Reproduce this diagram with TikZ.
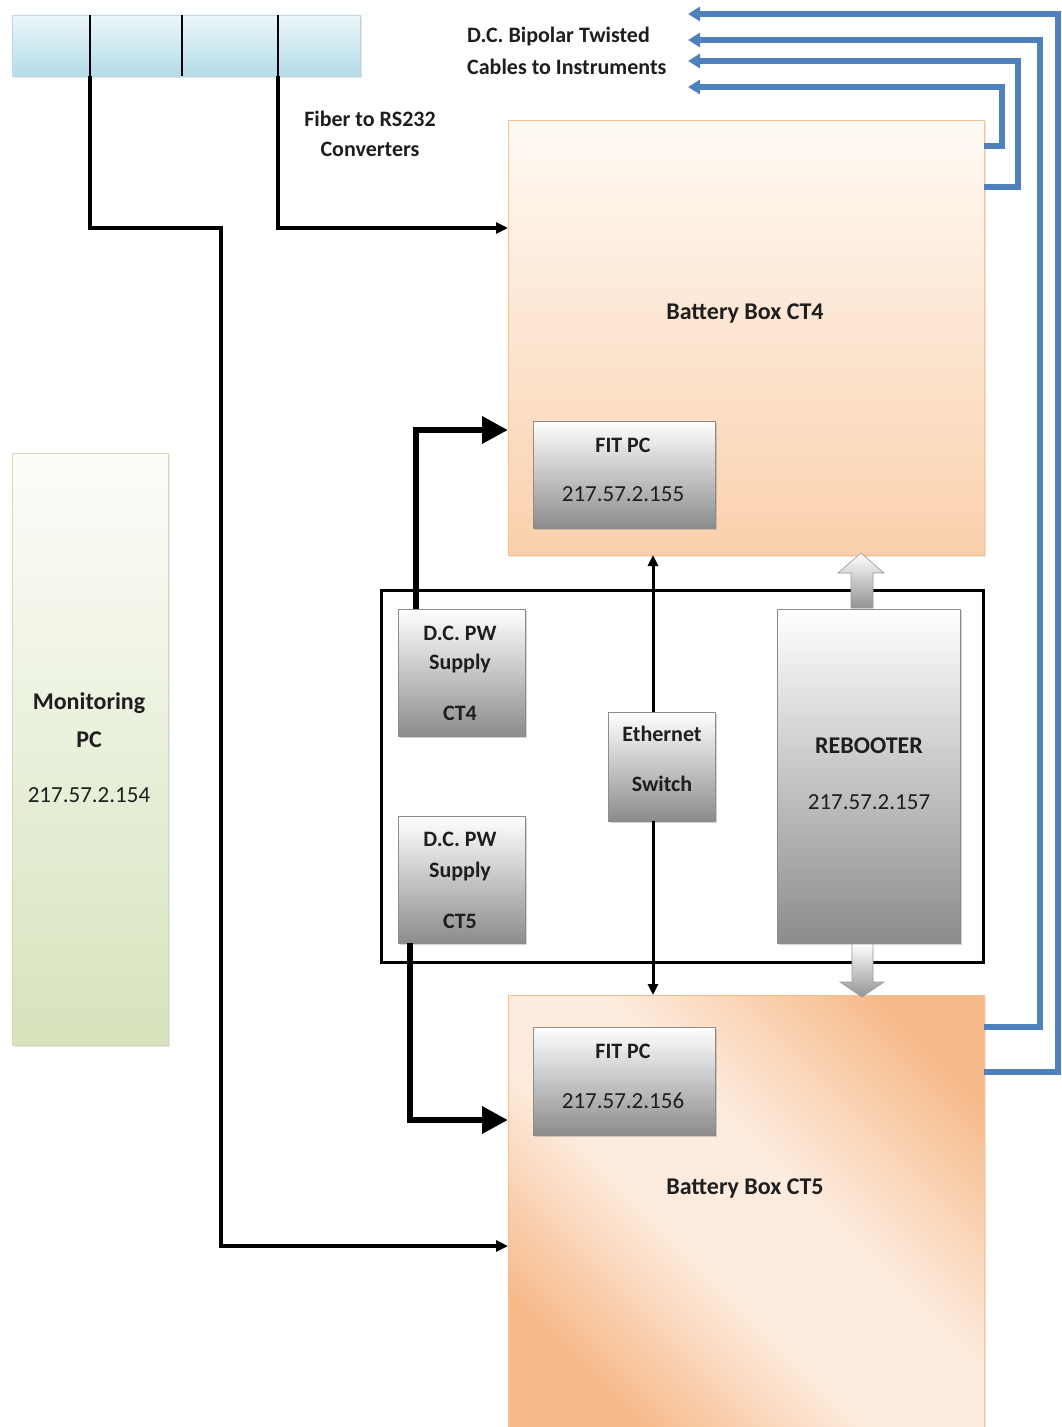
\documentclass[tikz,border=0pt]{standalone}
\usepackage{fontspec}
\setmainfont{Carlito}
\usetikzlibrary{arrows.meta,shadows,calc}
\definecolor{cablecol}{RGB}{79,129,189}
\definecolor{peachlight}{RGB}{255,250,245}
\definecolor{peach}{RGB}{250,208,172}
\definecolor{peachdark}{RGB}{246,186,138}
\definecolor{peachmid}{RGB}{253,236,222}
\definecolor{bluetop}{RGB}{235,246,249}
\definecolor{bluebot}{RGB}{180,220,232}
\definecolor{greentop}{RGB}{252,253,250}
\definecolor{greenbot}{RGB}{214,227,188}
\definecolor{greenline}{RGB}{210,218,185}
\definecolor{graybot}{RGB}{140,140,140}
\definecolor{txt}{RGB}{30,30,30}
\pgfdeclareverticalshading{ctfive}{100bp}{color(0bp)=(peachdark); color(25bp)=(peachdark); color(43bp)=(peachmid); color(56bp)=(peachmid); color(77bp)=(peachdark); color(100bp)=(peachdark)}
\tikzset{
  box/.style={inner sep=0pt, outer sep=0pt},
  graybox/.style={box, draw=gray!90, line width=0.8pt, top color=white, bottom color=graybot,
     drop shadow={shadow xshift=2pt, shadow yshift=-2pt, opacity=0.35}},
  battbox/.style={box, draw=peach!80!orange, line width=0.5pt,
     drop shadow={shadow xshift=2pt, shadow yshift=-2pt, opacity=0.2}},
  wire/.style={line width=3.5pt, -{Triangle[length=12pt,width=11pt]}},
  bigwire/.style={line width=6.5pt, -{Triangle[length=26pt,width=26pt]}},
  eth/.style={line width=3pt, -{Triangle[length=11pt,width=10pt]}},
  cable/.style={line width=5.5pt, draw=cablecol, line join=miter, -{Triangle[length=12pt,width=14pt]}},
  bt/.style={font=\fontsize{22}{26}\selectfont\bfseries, text=txt, inner sep=0pt},
  big/.style={font=\fontsize{24}{28}\selectfont\bfseries, text=txt, inner sep=0pt},
  ip/.style={font=\fontsize{23}{27}\selectfont, text=txt, inner sep=0pt},
  fatarrow/.style={draw=gray!80, line width=0.6pt, top color=white, bottom color=gray!85}
}
\begin{document}
\begin{tikzpicture}[x=1pt,y=-1pt]
\useasboundingbox (0,0) rectangle (1061,1427);

% battery boxes
\node[battbox, top color=peachlight, bottom color=peach, minimum width=476pt, minimum height=435pt] (ct4) at (746,337.5) {};
\node[battbox, shading=ctfive, shading angle=-45, minimum width=476pt, minimum height=436pt] (ct5) at (746,1213) {};

% converter bar
\node[box, draw=gray!50!cyan!40, line width=0.6pt, top color=bluetop, bottom color=bluebot,
  drop shadow={shadow xshift=2pt, shadow yshift=-2pt, opacity=0.25},
  minimum width=348pt, minimum height=61pt] (conv) at (186,45.5) {};
\draw[line width=1.4pt] (conv.north -| 90,0) -- (conv.south -| 90,0);
\draw[line width=1.4pt] (conv.north -| 182,0) -- (conv.south -| 182,0);
\draw[line width=1.4pt] (conv.north -| 278,0) -- (conv.south -| 278,0);

% monitoring PC
\node[box, draw=greenline, line width=1pt, top color=greentop, bottom color=greenbot,
  drop shadow={shadow xshift=2pt, shadow yshift=-2pt, opacity=0.2},
  minimum width=156pt, minimum height=592pt] (mon) at (90,749) {};

% enclosure
\node[box, draw=black, line width=3pt, minimum width=602pt, minimum height=372pt] (encl) at (682,776) {};

% inner boxes
\node[graybox, minimum width=182pt, minimum height=107pt] (fit4) at (624,474.5) {};
\node[graybox, minimum width=182pt, minimum height=108pt] (fit5) at (624,1081) {};
\node[graybox, minimum width=127pt, minimum height=127pt] (sup4) at (461.5,672.5) {};
\node[graybox, minimum width=127pt, minimum height=127pt] (sup5) at (461.5,879.5) {};
\node[graybox, minimum width=107pt, minimum height=109pt] (eth) at (661.5,766.5) {};
\node[graybox, minimum width=183pt, minimum height=334pt] (reb) at (868.5,776) {};

% fat block arrows rebooter -> battery boxes
\path[fatarrow] (851,608) -- (851,573) -- (838,573) -- (861,553) -- (884,573) -- (873,573) -- (873,608) -- cycle;
\path[fatarrow] (852,944) -- (852,982) -- (840,982) -- (862,997) -- (884,982) -- (873,982) -- (873,944) -- cycle;

% fiber lines
\draw[wire] (conv.south -| 90,0) |- (221,228) |- (ct5.west |- 0,1246);
\draw[wire] (conv.south -| 278,0) |- (ct4.west |- 0,228);

% power supply thick arrows
\draw[bigwire] (sup4.north -| 416,0) |- (ct4.west |- 0,430);
\draw[bigwire] (sup5.south -| 410,0) |- (ct5.west |- 0,1120);

% ethernet
\draw[eth] (eth.north -| 653,0) -- (ct4.south -| 653,0);
\draw[eth] (eth.south -| 653,0) -- (ct5.north -| 653,0);

% cables
\draw[cable] (ct5.east |- 0,1072) -| (1058,14) -- (688,14);
\draw[cable] (ct5.east |- 0,1027) -| (1040,40) -- (688,40);
\draw[cable] (ct4.east |- 0,187) -| (1018,61) -- (688,61);
\draw[cable] (ct4.east |- 0,146) -| (1002,87) -- (688,87);

% texts
\node[bt] (t1) at (370,119) {Fiber to RS232};
\node[bt] (t2) at (370,149) {Converters};
\node[bt, anchor=west] (t3) at (467,37) {D.C. Bipolar Twisted};
\node[bt, anchor=west] (t4) at (467,67) {Cables to Instruments};
\node[big] (t5) at (745,314) {Battery Box CT4};
\node[bt] (t6) at (623,445) {FIT PC};
\node[ip] (t7) at (623,494) {217.57.2.155};
\node[bt] (t8) at (460,633) {D.C. PW};
\node[bt] (t9) at (460,664) {Supply};
\node[bt] (t10) at (460,713) {CT4};
\node[bt] (t11) at (460,839) {D.C. PW};
\node[bt] (t12) at (460,871) {Supply};
\node[bt] (t13) at (460,921) {CT5};
\node[bt] (t14) at (662,734) {Ethernet};
\node[bt] (t15) at (662,784) {Switch};
\node[big] (t16) at (869,746) {REBOOTER};
\node[ip] (t17) at (869,802) {217.57.2.157};
\node[bt] (t18) at (623,1051) {FIT PC};
\node[ip] (t19) at (623,1101) {217.57.2.156};
\node[big] (t20) at (745,1189) {Battery Box CT5};
\node[big] (t21) at (89,703) {Monitoring};
\node[big] (t22) at (89,740) {PC};
\node[ip] (t23) at (89,795) {217.57.2.154};
\end{tikzpicture}
\end{document}
